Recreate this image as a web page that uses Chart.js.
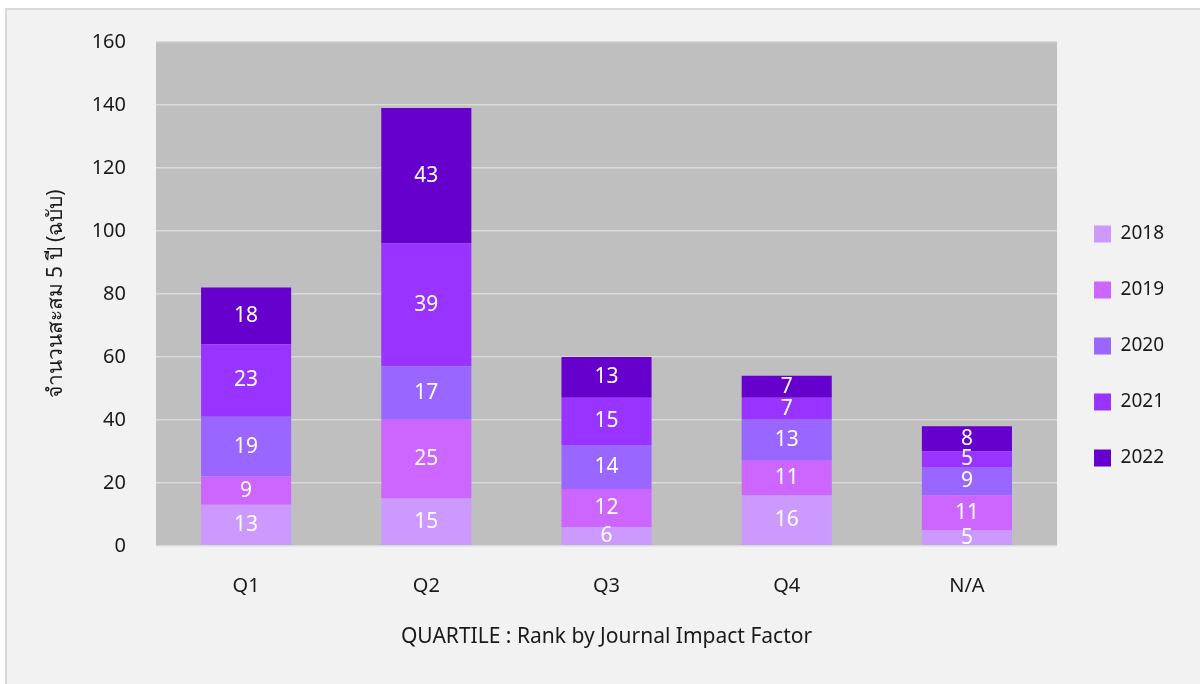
<!DOCTYPE html>
<html>
<head>
<meta charset="utf-8">
<script src="https://cdn.jsdelivr.net/npm/chart.js@4"></script>
<style>
  html, body { margin: 0; padding: 0; background: #ffffff; }
  #frame {
    position: absolute; left: 5px; top: 8px; width: 1200px; height: 690px;
    background: #f2f2f2; border-left: 2px solid #d9d9d9; border-top: 2px solid #d9d9d9;
  }
  #wrap { position: absolute; left: 0; top: 0; width: 1200px; height: 684px; }
</style>
</head>
<body>
<div id="frame"></div>
<div id="wrap"><canvas id="chart" width="1200" height="684"></canvas></div>
<script>
// Quartile publication counts, stacked by year

const quartiles = ['Q1', 'Q2', 'Q3', 'Q4', 'N/A'];
const years = ['2018', '2019', '2020', '2021', '2022'];

const count2018 = [13, 15, 6, 16, 5];
const count2019 = [9, 25, 12, 11, 11];
const count2020 = [19, 17, 14, 13, 9];
const count2021 = [23, 39, 15, 7, 5];
const count2022 = [18, 43, 13, 7, 8];

const yearColors = ['#cc99ff', '#cc66ff', '#9966ff', '#9933ff', '#6600cc'];

const FONT = "'Noto Sans', 'DejaVu Sans', sans-serif";

// Gray plot background behind the bars
const plotBackground = {
    id: 'plotBackground',
    beforeDraw(chart) {
        const { ctx, chartArea } = chart;
        ctx.save();
        ctx.fillStyle = '#bfbfbf';
        ctx.fillRect(chartArea.left, chartArea.top, chartArea.right - chartArea.left, chartArea.bottom - chartArea.top);
        ctx.restore();
    }
};

// White value labels in the middle of every segment
const segmentLabels = {
    id: 'segmentLabels',
    afterDatasetsDraw(chart) {
        const ctx = chart.ctx;
        ctx.save();
        ctx.fillStyle = '#ffffff';
        ctx.font = '21px ' + FONT;
        ctx.textAlign = 'center';
        ctx.textBaseline = 'middle';
        chart.data.datasets.forEach((ds, i) => {
            chart.getDatasetMeta(i).data.forEach((bar, j) => {
                const v = ds.data[j];
                if (!v) return;
                ctx.fillText(String(v), bar.x, (bar.y + bar.base) / 2);
            });
        });
        ctx.restore();
    }
};

const allCounts = [count2018, count2019, count2020, count2021, count2022];

new Chart(document.getElementById('chart').getContext('2d'), {
    type: 'bar',
    data: {
        labels: quartiles,
        datasets: years.map((y, i) => ({
            label: y,
            data: allCounts[i],
            backgroundColor: yearColors[i],
            borderWidth: 0,
            barPercentage: 0.5,
            categoryPercentage: 1.0
        }))
    },
    options: {
        responsive: false,
        animation: false,
        layout: { padding: { left: 43, top: 42, right: 26, bottom: 34 } },
        plugins: {
            tooltip: { enabled: false },
            legend: {
                position: 'right',
                labels: {
                    boxWidth: 17,
                    boxHeight: 17,
                    padding: 37,
                    color: '#1a1a1a',
                    font: { size: 19, family: FONT }
                }
            }
        },
        scales: {
            x: {
                stacked: true,
                grid: { display: false },
                border: { display: false },
                ticks: { color: '#1a1a1a', padding: 20, font: { size: 20, family: FONT } },
                title: {
                    display: true,
                    text: 'QUARTILE : Rank by Journal Impact Factor',
                    color: '#1a1a1a',
                    padding: { top: 7, bottom: 0 },
                    font: { size: 21, family: FONT }
                }
            },
            y: {
                stacked: true,
                min: 0,
                max: 160,
                border: { display: false },
                grid: { color: '#d9d9d9', lineWidth: 1.5, drawTicks: false },
                ticks: { stepSize: 20, color: '#1a1a1a', padding: 30, font: { size: 20, family: FONT } },
                title: {
                    display: true,
                    text: 'จำนวนสะสม 5 ปี (ฉบับ)',
                    color: '#1a1a1a',
                    padding: 0,
                    font: { size: 21, family: FONT }
                },
                afterFit(scale) {
                    scale.width = 113;
                }
            }
        }
    },
    plugins: [plotBackground, segmentLabels]
});
</script>
</body>
</html>
